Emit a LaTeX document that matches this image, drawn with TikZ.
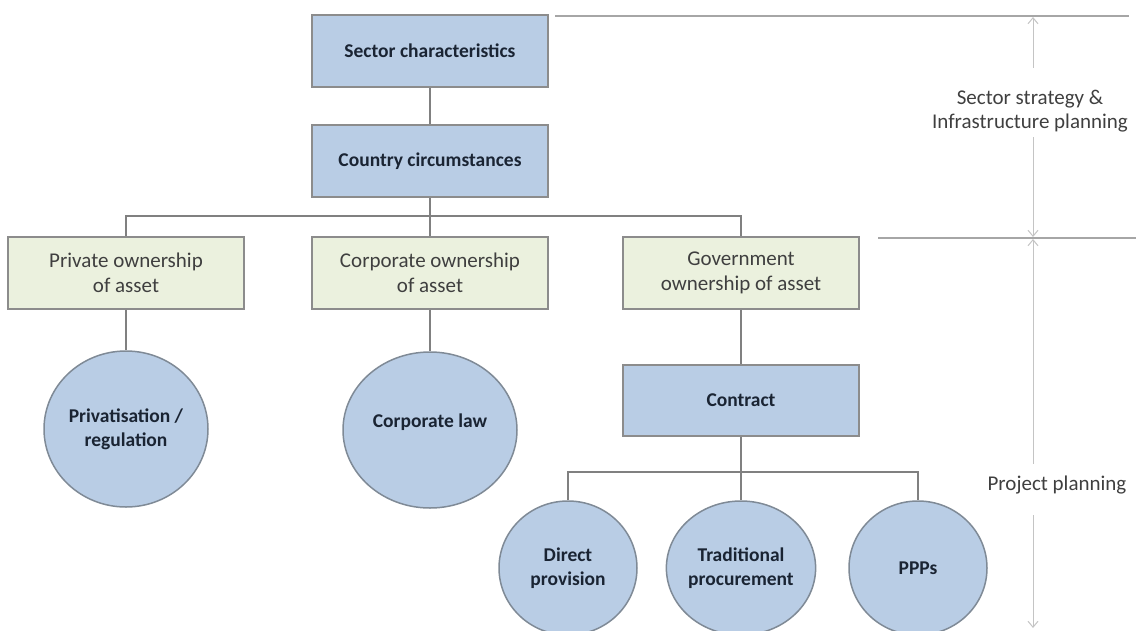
\documentclass[tikz,border=0pt]{standalone}
\usepackage{fontspec}
\setmainfont{Carlito}
\usetikzlibrary{shapes.geometric,arrows.meta}
\definecolor{bluefill}{HTML}{B9CDE5}
\definecolor{greenfill}{HTML}{EBF1DE}
\definecolor{boxborder}{HTML}{8C8C8C}
\definecolor{ovalborder}{HTML}{7F8A96}
\definecolor{navytext}{HTML}{1A2433}
\definecolor{greytext}{HTML}{3F3F3F}
\definecolor{connector}{HTML}{808080}
\definecolor{ruleline}{HTML}{A6A6A6}
\definecolor{arrowline}{HTML}{C4C4C4}
\tikzset{
  bluebox/.style={draw=boxborder, fill=bluefill, line width=1.5pt,
    minimum width=236pt, minimum height=72pt, inner sep=0pt, align=center,
    font=\fontsize{19.5}{23}\selectfont\bfseries, text=navytext},
  greenbox/.style={draw=boxborder, fill=greenfill, line width=1.5pt,
    minimum width=236pt, minimum height=72pt, inner sep=0pt, align=center,
    font=\fontsize{21}{25}\selectfont, text=greytext},
  oval/.style={ellipse, draw=ovalborder, fill=bluefill, line width=1.5pt,
    inner sep=0pt, align=center,
    font=\fontsize{19.5}{24}\selectfont\bfseries, text=navytext},
  conn/.style={draw=connector, line width=2.5pt},
  sidetext/.style={align=center, font=\fontsize{21}{24}\selectfont, text=greytext},
  rule/.style={draw=ruleline, line width=2pt},
  span/.style={draw=arrowline, line width=1pt},
  tip/.tip={Straight Barb[length=6pt,width=10pt,line width=1pt]}
}
\begin{document}
\begin{tikzpicture}[x=1pt,y=-1pt]
\useasboundingbox (0,0) rectangle (1136,630);
% boxes
\node[bluebox] (sector) at (430,51) {Sector characteristics};
\node[bluebox] (country) at (430,161) {Country circumstances};
\node[greenbox] (private) at (126,273) {Private ownership\\of asset};
\node[greenbox] (corporate) at (430,273) {Corporate ownership\\of asset};
\node[greenbox] (gov) at (741,273) {Government\\ownership of asset};
\node[bluebox, minimum height=71pt] (contract) at (741,400.5) {Contract};
% ellipses
\node[oval, minimum width=164pt, minimum height=156pt] (privat) at (126,429) {Privatisation /\\regulation};
\node[oval, minimum width=174pt, minimum height=156pt] (corplaw) at (430,430) {\raisebox{18pt}{Corporate law}};
\node[oval, minimum width=138pt, minimum height=134pt] (direct) at (568,568) {Direct\\provision};
\node[oval, minimum width=138pt, minimum height=134pt] (trad) at (741,568) {Traditional\\procurement};
\node[oval, minimum width=138pt, minimum height=134pt] (ppps) at (918,568) {PPPs};
% connectors
\coordinate (busA) at (430,216);
\coordinate (busB) at (741,472);
\draw[conn] (sector) -- (country);
\draw[conn] (country) -- (corporate);
\draw[conn] (private.north) |- (busA) -| (gov.north);
\draw[conn] (private) -- (privat);
\draw[conn] (corporate) -- (corplaw);
\draw[conn] (gov) -- (contract);
\draw[conn] (contract) -- (trad);
\draw[conn] (direct.north) |- (busB) -| (ppps.north);
% right side annotation
\coordinate (r1a) at (555,16);
\coordinate (r1b) at (1129,16);
\coordinate (r2a) at (878,238);
\coordinate (r2b) at (1136,238);
\draw[rule] (r1a) -- (r1b);
\draw[rule] (r2a) -- (r2b);
\node[sidetext] (lab1) at (1030,111) {Sector strategy \&\\Infrastructure planning};
\node[sidetext] (lab2) at (1057,485) {Project planning};
\coordinate (a1) at (1033,17);
\coordinate (a2) at (1033,68);
\coordinate (a3) at (1033,137);
\coordinate (a4) at (1033,237);
\coordinate (a5) at (1033,239);
\coordinate (a6) at (1033,464);
\coordinate (a7) at (1033,515);
\coordinate (a8) at (1033,628);
\draw[span, tip-] (a1) -- (a2);
\draw[span, -tip] (a3) -- (a4);
\draw[span, tip-] (a5) -- (a6);
\draw[span, -tip] (a7) -- (a8);
\end{tikzpicture}
\end{document}
